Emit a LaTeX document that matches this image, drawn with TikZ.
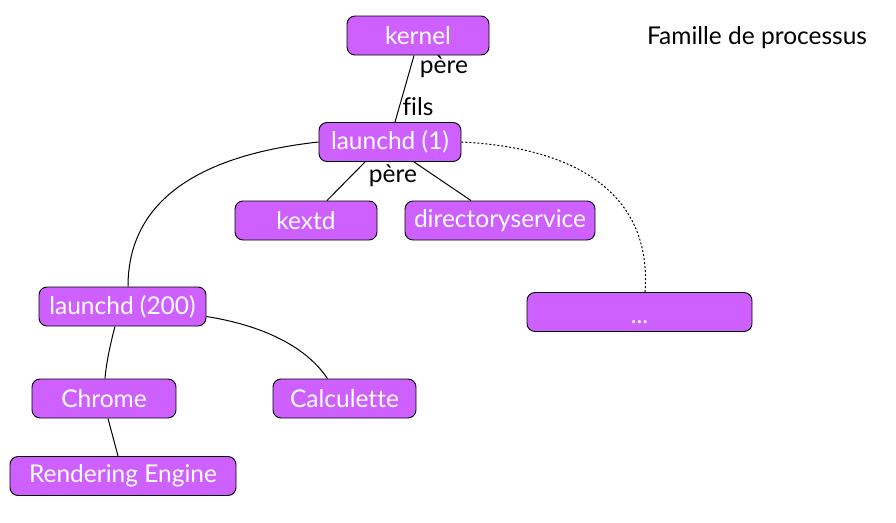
\documentclass[tikz,border=0pt]{standalone}
\usepackage{fontspec}
\setmainfont[Ligatures=NoCommon]{Lato}
\definecolor{procViolet}{RGB}{206,96,255}
\usetikzlibrary{positioning,calc}

\begin{document}
\begin{tikzpicture}[x=1pt, y=-1pt,
  proc/.style={draw=black, line width=0.9pt, rounded corners=8pt, fill=procViolet,
               text=white, minimum height=39pt, font=\fontsize{24.5}{28}\selectfont,
               inner sep=0pt},
  lbl/.style={font=\fontsize{24.5}{28}\selectfont, inner sep=1pt},
  link/.style={line width=1pt}
]
  \useasboundingbox (0,0) rectangle (896,522);

  \node[lbl] (title) at (757,38) {Famille de processus};

  \node[proc, minimum width=142pt] (kernel)   at (418,35.5)  {kernel};
  \node[proc, minimum width=142pt] (launchd)  at (390,142)   {launchd (1)};
  \node[proc, minimum width=142pt] (kextd)    at (306,220.5) {kextd};
  \node[proc, minimum width=190pt] (dirsvc)   at (500,220.5) {directoryservice};
  \node[proc, minimum width=167pt] (launchdu) at (122.5,306.5) {launchd (200)};
  \node[proc, minimum width=225pt] (autres)   at (639.5,312) {};
  \node[text=white, font=\fontsize{24.5}{28}\selectfont] (points) at (639.5,322) {...};
  \node[proc, minimum width=144pt] (chrome)   at (104,398.5) {Chrome};
  \node[proc, minimum width=143pt] (calc)     at (344.5,398.5) {Calculette};
  \node[proc, minimum width=226pt] (render)   at (123,476)   {Rendering Engine};

  % liens pere / fils
  \draw[link] ($(kernel.south)+(-4,0)$) -- ($(launchd.north)+(5,0)$);
  \node[lbl] (pere1) at (444,67)  {père};
  \node[lbl] (fils1) at (418,107) {fils};

  \draw[link] ($(launchd.south)+(-25,0)$) -- ($(kextd.north)+(21,0)$);
  \draw[link] ($(launchd.south)+(24,0)$)  -- ($(dirsvc.north)+(-29,0)$);
  \node[lbl] (pere2) at (393,176) {père};

  \draw[link] (launchd.west) .. controls (200,155) and (128,200) .. ($(launchdu.north)+(5.5,0)$);
  \draw[link, dash pattern=on 2pt off 2pt] (launchd.east) .. controls (585,148) and (652,200) .. ($(autres.north)+(5.5,0)$);

  \draw[link] ($(launchdu.east)+(0,10)$) .. controls (260,325) and (305,345) .. ($(calc.north)+(-17,0)$);
  \draw[link] ($(launchdu.south)+(-7.5,0)$) .. controls (110,345) and (106,365) .. ($(chrome.north)+(1,0)$);
  \draw[link] ($(chrome.south)+(4,0)$) -- ($(render.north)+(-5,0)$);
\end{tikzpicture}
\end{document}
